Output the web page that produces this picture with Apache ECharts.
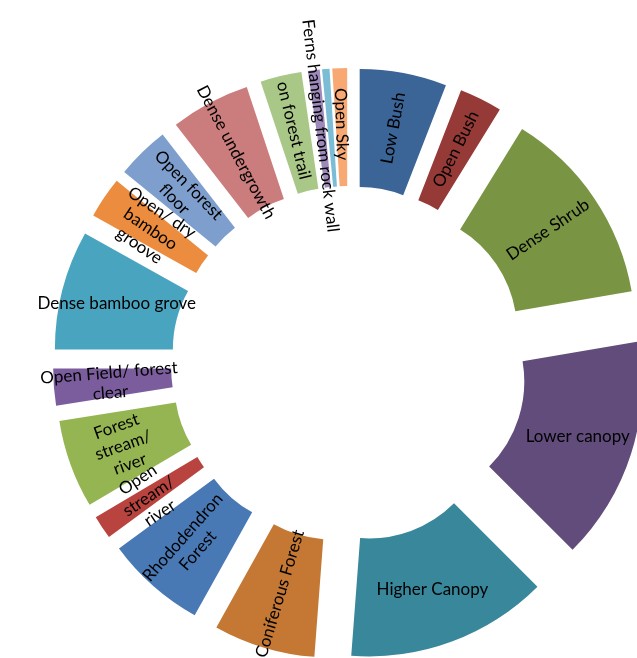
<!DOCTYPE html>
<html>
<head>
<meta charset="utf-8">
<script src="https://cdn.jsdelivr.net/npm/echarts@6/dist/echarts.min.js"></script>
<style>
  html, body { margin: 0; padding: 0; background: #ffffff; }
  #chart { width: 637px; height: 658px; }
</style>
</head>
<body>
<div id="chart"></div>
<script>
// Habitat categories, clockwise from 12 o'clock (line breaks = label wrapping)
const categories = [
  'Low Bush', 'Open Bush', 'Dense Shrub', 'Lower canopy', 'Higher Canopy',
  'Coniferous Forest', 'Rhododendron\nForest', 'Open\nstream/\nriver',
  'Forest\nstream/\nriver', 'Open Field/ forest\nclear', 'Dense bamboo grove',
  'Open/ dry\nbamboo\ngroove', 'Open forest\nfloor', 'Dense undergrowth',
  'on forest trail', 'Ferns hanging from rock wall', '', 'Open Sky'
];

// Share of observations per habitat (%)
const shares = [
  5.9, 2.9, 13.5, 15.2, 13.7,
  6.9, 6.8, 1.6,
  6.0, 2.5, 8.1,
  2.8, 3.6, 5.4,
  2.8, 0.8, 0.5, 1.0
];

const sliceColors = [
  '#3b6497', '#953a37', '#799543', '#624c7c', '#38879a',
  '#c47834', '#4979b5', '#b9443f', '#94b552', '#7b5d9d',
  '#49a5bf', '#ec8c3e', '#7e9fcd', '#cb7c7c', '#a9c787',
  '#9e89bb', '#7bbdd5', '#f8a873'
];

// Labels drawn level instead of along the radius
const levelLabels = ['Lower canopy', 'Higher Canopy', 'Dense bamboo grove'];

const chart = echarts.init(document.getElementById('chart'), null, { renderer: 'canvas' });

const pieData = categories.map((name, i) => ({
  name: name,
  value: shares[i],
  selected: true,
  itemStyle: { color: sliceColors[i] },
  label: {
    show: name !== '',
    rotate: levelLabels.indexOf(name) >= 0 ? 0 : 'radial'
  }
}));

chart.setOption({
  animation: false,
  backgroundColor: '#ffffff',
  series: [{
    type: 'pie',
    center: [349, 364],
    radius: [120, 238],
    startAngle: 90,
    clockwise: true,
    selectedMode: 'multiple',
    selectedOffset: 58,
    avoidLabelOverlap: false,
    labelLayout: { hideOverlap: false },
    itemStyle: { borderWidth: 0 },
    select: { itemStyle: { borderWidth: 0 }, label: { color: '#000000' } },
    emphasis: { disabled: true },
    label: {
      position: 'inside',
      color: '#000000',
      fontFamily: 'Lato',
      fontSize: 17,
      lineHeight: 20,
      align: 'center'
    },
    labelLine: { show: false },
    data: pieData
  }]
});
</script>
</body>
</html>
